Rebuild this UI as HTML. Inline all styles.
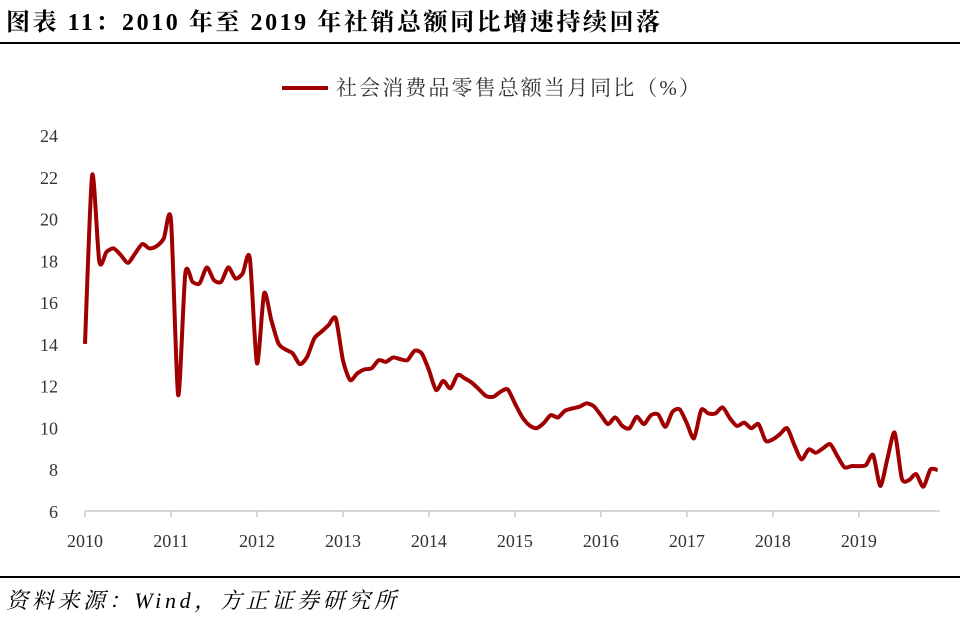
<!DOCTYPE html>
<html><head><meta charset="utf-8"><style>
body{margin:0;width:960px;height:629px;background:#fff;overflow:hidden;font-family:"Liberation Serif","Noto Serif CJK SC",serif;}
</style></head><body>
<svg width="960" height="629" xmlns="http://www.w3.org/2000/svg">
<text x="6" y="30" font-size="24" font-weight="bold" fill="#000" textLength="654" lengthAdjust="spacing" font-family="'Liberation Serif','Noto Serif CJK SC',serif">图表 11：2010 年至 2019 年社销总额同比增速持续回落</text>
<line x1="0" y1="43" x2="960" y2="43" stroke="#000" stroke-width="2"/>
<g>
<line x1="282" y1="88" x2="328" y2="88" stroke="#A00000" stroke-width="4"/>
<text x="336" y="95" font-size="21" fill="#333" textLength="364" lengthAdjust="spacing" font-family="'Liberation Serif','Noto Serif CJK SC',serif">社会消费品零售总额当月同比（%）</text>
</g>
<g id="axes"></g>
<path id="series" fill="none" stroke="#A00000" stroke-width="4" stroke-linejoin="round"/>
<line x1="0" y1="577" x2="960" y2="577" stroke="#000" stroke-width="2"/>
<text x="6" y="608" font-size="22" font-style="italic" fill="#000" textLength="390" lengthAdjust="spacing" font-family="'Liberation Serif','Noto Serif CJK SC',serif">资料来源：Wind，方正证券研究所</text>
</svg>
<script>
const yTicks=[6,8,10,12,14,16,18,20,22,24];
const yearLabels=["2010","2011","2012","2013","2014","2015","2016","2017","2018","2019"];
const values=[14.0,22.08,17.93,18.4,18.57,18.25,17.88,18.33,18.78,18.57,18.68,19.05,
19.92,11.55,17.37,16.97,16.9,17.66,17.05,16.97,17.66,17.13,17.37,18.12,
13.07,16.42,15.14,14.02,13.73,13.54,13.03,13.38,14.26,14.58,14.9,15.22,
13.22,12.27,12.59,12.78,12.83,13.22,13.14,13.35,13.27,13.22,13.67,13.54,
12.75,11.79,12.23,11.87,12.51,12.35,12.14,11.82,11.5,11.47,11.71,11.82,
11.15,10.51,10.11,9.96,10.2,10.59,10.48,10.8,10.91,10.99,11.15,11.02,
10.59,10.16,10.48,10.07,9.96,10.51,10.16,10.59,10.62,10.03,10.75,10.86,
10.2,9.48,10.83,10.67,10.67,10.96,10.44,10.07,10.23,9.96,10.16,9.36,
9.43,9.68,9.96,9.16,8.47,8.95,8.79,9.0,9.2,8.63,8.09,8.15,
8.15,8.2,8.68,7.2,8.52,9.75,7.56,7.48,7.77,7.16,7.99,7.96];
const X0=85,MONTH=7.165,YMIN=6,YMAX=24,YB=511,YT=135;
const xs=i=>X0+i*MONTH;
const ys=v=>YB-(v-YMIN)/(YMAX-YMIN)*(YB-YT);
const NS="http://www.w3.org/2000/svg";
const ax=document.getElementById('axes');
function mk(t,a){const e=document.createElementNS(NS,t);for(const k in a)e.setAttribute(k,a[k]);ax.appendChild(e);return e;}
const xa=mk('line',{x1:X0,y1:YB,x2:xs(values.length-1)+2,y2:YB,stroke:'#C8C8C8','stroke-width':1.5});


yTicks.forEach(v=>{const t=mk('text',{x:58,y:ys(v)+7,'text-anchor':'end','font-size':18,fill:'#333'});t.textContent=v;

});
yearLabels.forEach((l,k)=>{const x=xs(k*12);
const tk=mk('line',{x1:x,y1:YB,x2:x,y2:YB+6,stroke:'#C8C8C8','stroke-width':1.5});


const t=mk('text',{x:x,y:YB+36,'text-anchor':'middle','font-size':18,fill:'#333'});t.textContent=l;

});
const P=values.map((v,i)=>[xs(i),ys(v)]);
let d='M'+P[0][0]+','+P[0][1];
for(let i=0;i<P.length-1;i++){const p0=P[Math.max(i-1,0)],p1=P[i],p2=P[i+1],p3=P[Math.min(i+2,P.length-1)];
const c1=[p1[0]+(p2[0]-p0[0])/8,p1[1]+(p2[1]-p0[1])/8],c2=[p2[0]-(p3[0]-p1[0])/8,p2[1]-(p3[1]-p1[1])/8];
d+=` C${c1[0]},${c1[1]} ${c2[0]},${c2[1]} ${p2[0]},${p2[1]}`;}
document.getElementById('series').setAttribute('d',d);
</script>
</body></html>
